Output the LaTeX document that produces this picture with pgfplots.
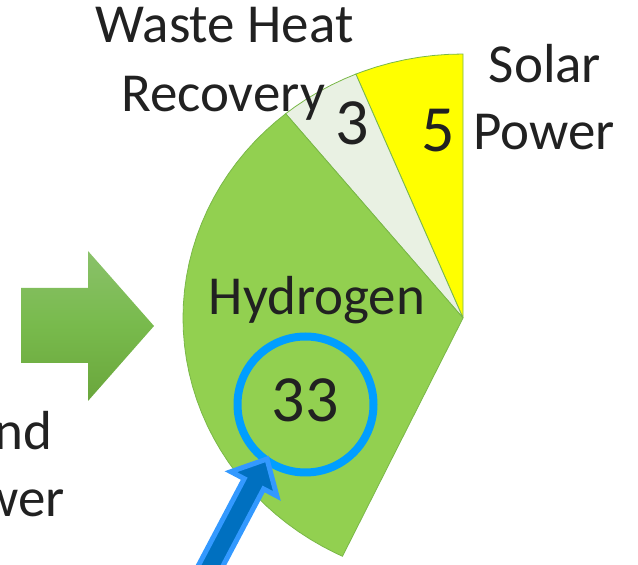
\documentclass[border=0pt]{standalone}
\usepackage{pgfplots}
\pgfplotsset{compat=1.18}
\usepgfplotslibrary{polar}
\usepackage{fontspec}
\setmainfont{Carlito}
\definecolor{hgreen}{RGB}{146,208,80}
\definecolor{wheat}{RGB}{233,241,227}
\definecolor{syellow}{RGB}{255,255,0}
\definecolor{edgegreen}{RGB}{122,184,72}
\definecolor{txt}{RGB}{33,33,33}
\definecolor{ringblue}{RGB}{0,158,255}
\definecolor{lightblue}{RGB}{51,153,255}
\definecolor{darkblue}{RGB}{0,112,192}
\definecolor{arrtop}{RGB}{138,193,106}
\definecolor{arrmid}{RGB}{120,186,76}
\definecolor{arrbot}{RGB}{106,166,60}
\begin{document}
\begin{tikzpicture}
\useasboundingbox (0,0) rectangle (638pt,565pt);
\clip (0,0) rectangle (638pt,565pt);
% green arrow
\begin{scope}[x=1pt,y=-1pt,yshift=565pt]
\shade[top color=arrtop, bottom color=arrbot, middle color=arrmid]
  (21,288) -- (88,288) -- (88,251) -- (154,326) -- (88,401) -- (88,363) -- (21,363) -- cycle;
\end{scope}
\begin{axis}[at={(0,0)}, anchor=south west, width=638pt, height=565pt,
  scale only axis, hide axis,
  xmin=-1.65357, xmax=0.625, ymin=-0.93561, ymax=1.20455, clip=false]
% Solar Power (5)
\addplot[draw=edgegreen, line width=0.8pt, fill=syellow, data cs=polar] coordinates {
 (0,0) (90,1) (93,1) (96,1) (99,1) (102,1) (105,1) (108,1) (111,1) (112.5,1) (0,0)};
% Waste Heat Recovery (3)
\addplot[draw=edgegreen, line width=0.8pt, fill=wheat, data cs=polar] coordinates {
 (0,0) (112.5,1) (115,1) (118,1) (121,1) (124,1) (127,1) (129.3,1) (0,0)};
% Hydrogen (33)
\addplot[draw=edgegreen, line width=0.8pt, fill=hgreen, data cs=polar] coordinates {
 (0,0) (129.3,1) (132,1) (135,1) (138,1) (141,1) (144,1) (147,1) (150,1) (153,1)
 (156,1) (159,1) (162,1) (165,1) (168,1) (171,1) (174,1) (177,1) (180,1) (183,1)
 (186,1) (189,1) (192,1) (195,1) (198,1) (201,1) (204,1) (207,1) (210,1) (213,1)
 (216,1) (219,1) (222,1) (225,1) (228,1) (231,1) (234,1) (237,1) (240,1) (243,1)
 (244.5,1) (0,0)};
\end{axis}
\begin{scope}[x=1pt,y=-1pt,yshift=565pt]
% blue ring
\draw[ringblue, line width=8pt] (305.5,404.5) circle [radius=68pt];
% blue arrow
\draw[lightblue, fill=darkblue, line width=5pt, line join=miter]
  (267,459) -- (276.9,496) -- (263.6,489) -- (206.7,596.7) -- (187.3,586.5)
  -- (244.2,478.7) -- (230.9,471.7) -- cycle;
% texts
\begin{scope}[every node/.style={inner sep=0pt, text=txt, font=\fontsize{55}{66}\selectfont}]
\node[anchor=base] at (224.5,43) {Waste Heat};
\node[anchor=base] at (223,112) {Recovery};
\node[anchor=base] at (545,83) {Solar};
\node[anchor=base] at (544,150) {Power};
\node[anchor=base] at (317,315) {Hydrogen};
\node[anchor=base east] at (53,450) {Wind};
\node[anchor=base east] at (65,517) {Power};
\end{scope}
\begin{scope}[every node/.style={inner sep=0pt, text=txt, font=\fontsize{66}{78}\selectfont}]
\node[anchor=base] at (352.5,145) {3};
\node[anchor=base] at (438,152) {5};
\node[anchor=base] at (305,422) {33};
\end{scope}
\end{scope}
\end{tikzpicture}
\end{document}
